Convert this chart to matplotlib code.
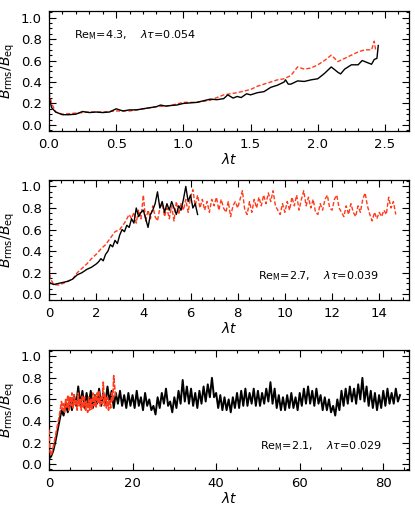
import numpy as np
import matplotlib
matplotlib.use("Agg")
import matplotlib.pyplot as plt
from matplotlib.ticker import MultipleLocator, FormatStrFormatter

# === data ===
# panel 1: Re_M=4.3
t1_black = [0, 0.02, 0.05, 0.1, 0.15, 0.2, 0.25, 0.3, 0.35, 0.4, 0.45, 0.5, 0.55, 0.6, 0.65,
            0.7, 0.75, 0.8, 0.83, 0.87, 0.9, 0.95, 1.0, 1.05, 1.1, 1.15, 1.2, 1.25, 1.3, 1.33,
            1.37, 1.4, 1.43, 1.47, 1.5, 1.55, 1.6, 1.65, 1.7, 1.75, 1.76, 1.78, 1.8, 1.85, 1.9,
            1.95, 2.0, 2.05, 2.1, 2.15, 2.17, 2.2, 2.25, 2.3, 2.33, 2.37, 2.4, 2.42, 2.44, 2.45]
b1_black = [0.26, 0.16, 0.12, 0.095, 0.095, 0.10, 0.125, 0.115, 0.12, 0.115, 0.12, 0.15, 0.13, 0.14, 0.14,
            0.15, 0.16, 0.17, 0.185, 0.175, 0.18, 0.185, 0.20, 0.205, 0.21, 0.225, 0.24, 0.235, 0.245, 0.28,
            0.25, 0.265, 0.255, 0.29, 0.28, 0.30, 0.31, 0.35, 0.37, 0.40, 0.42, 0.38, 0.38, 0.41, 0.405,
            0.42, 0.43, 0.48, 0.54, 0.49, 0.475, 0.52, 0.56, 0.56, 0.60, 0.58, 0.565, 0.61, 0.62, 0.74]
t1_red = [0, 0.02, 0.05, 0.1, 0.2, 0.3, 0.4, 0.5, 0.6, 0.7, 0.8, 0.9, 1.0, 1.1, 1.2, 1.3, 1.4,
          1.5, 1.55, 1.6, 1.65, 1.7, 1.75, 1.8, 1.85, 1.9, 1.95, 2.0, 2.05, 2.1, 2.15, 2.2, 2.25,
          2.3, 2.35, 2.4, 2.42, 2.43]
b1_red = [0.30, 0.20, 0.12, 0.10, 0.11, 0.12, 0.12, 0.13, 0.13, 0.15, 0.17, 0.18, 0.21, 0.21, 0.23, 0.28, 0.30,
          0.33, 0.36, 0.38, 0.40, 0.42, 0.43, 0.46, 0.54, 0.52, 0.53, 0.56, 0.60, 0.65, 0.59, 0.62, 0.65,
          0.68, 0.70, 0.70, 0.78, 0.70]

# panel 2: Re_M=2.7
t2_black_early = [0, 0.2, 0.4, 0.6, 0.8, 1.0, 1.2, 1.4, 1.6, 1.8]
b2_black_early = [0.11, 0.09, 0.10, 0.11, 0.12, 0.14, 0.18, 0.20, 0.23, 0.25]
b2_black_late = [0.28, 0.30, 0.33, 0.31, 0.37, 0.40, 0.46, 0.44, 0.50, 0.47,   # t = 2.0 .. 2.9
                 0.55, 0.60, 0.58, 0.64, 0.62, 0.70, 0.66, 0.80, 0.72, 0.76,   # 3.0 .. 3.9
                 0.78, 0.70, 0.62, 0.74, 0.78, 0.84, 0.95, 0.80, 0.86, 0.76,   # 4.0 .. 4.9
                 0.84, 0.78, 0.86, 0.80, 0.74, 0.82, 0.78, 0.88, 1.00, 0.86,   # 5.0 .. 5.9
                 0.92, 0.80, 0.84, 0.74]                                       # 6.0 .. 6.3
t2_red_early = [0, 0.05, 0.2, 0.4, 0.6, 0.8, 1.0, 1.2, 1.4, 1.6, 1.8, 2.0, 2.2, 2.4, 2.6, 2.8,
                3.0, 3.2, 3.4]
b2_red_early = [0.30, 0.15, 0.09, 0.085, 0.10, 0.12, 0.14, 0.20, 0.24, 0.28, 0.33, 0.37, 0.42, 0.46,
                0.52, 0.58, 0.60, 0.66, 0.74]
b2_red_late = [0.70, 0.76, 0.66, 0.78, 0.70,                                   # t = 3.5 .. 3.9
               0.92, 0.68, 0.78, 0.70, 0.82, 0.72, 0.68, 0.80, 0.84, 0.72,     # 4
               0.80, 0.70, 0.82, 0.68, 0.86, 0.74, 0.84, 0.78, 0.88, 0.76,     # 5
               0.90, 0.97, 0.82, 0.92, 0.80, 0.88, 0.78, 0.86, 0.76, 0.88,     # 6
               0.82, 0.90, 0.78, 0.88, 0.80, 0.76, 0.86, 0.72, 0.82, 0.86,     # 7
               0.80, 0.88, 0.96, 0.78, 0.74, 0.86, 0.76, 0.88, 0.80, 0.90,     # 8
               0.82, 0.92, 0.84, 0.94, 0.86, 0.96, 0.82, 0.78, 0.74, 0.84,     # 9
               0.76, 0.86, 0.78, 0.90, 0.82, 0.92, 0.78, 0.88, 0.96, 0.82,     # 10
               0.90, 0.80, 0.88, 0.76, 0.74, 0.84, 0.78, 0.88, 0.92, 0.80,     # 11
               0.78, 0.88, 0.92, 0.80, 0.76, 0.72, 0.82, 0.74, 0.84, 0.76,     # 12
               0.72, 0.82, 0.76, 0.88, 0.94, 0.82, 0.74, 0.68, 0.76, 0.70,     # 13
               0.76, 0.72, 0.78, 0.74, 0.90, 0.80, 0.86, 0.74]                 # 14 .. 14.7

# panel 3: Re_M=2.1, black sampled every 0.5
b3_black = [0.05, 0.07, 0.12, 0.20, 0.30, 0.40, 0.50, 0.45, 0.56, 0.48,   # t = 0 .. 4.5
            0.60, 0.50, 0.64, 0.54, 0.72, 0.55, 0.68, 0.52, 0.66, 0.54,   # 5 .. 9.5
            0.68, 0.52, 0.64, 0.56, 0.70, 0.54, 0.66, 0.56, 0.72, 0.58,   # 10
            0.68, 0.52, 0.66, 0.56, 0.68, 0.54, 0.64, 0.52, 0.66, 0.54,   # 15
            0.64, 0.52, 0.68, 0.54, 0.62, 0.50, 0.66, 0.54, 0.60, 0.50,   # 20
            0.54, 0.46, 0.62, 0.52, 0.66, 0.56, 0.70, 0.54, 0.58, 0.48,   # 25
            0.62, 0.52, 0.68, 0.56, 0.78, 0.58, 0.72, 0.56, 0.70, 0.54,   # 30
            0.66, 0.52, 0.68, 0.56, 0.72, 0.58, 0.74, 0.62, 0.80, 0.62,   # 35
            0.66, 0.52, 0.64, 0.50, 0.62, 0.50, 0.60, 0.48, 0.62, 0.52,   # 40
            0.66, 0.52, 0.68, 0.54, 0.70, 0.54, 0.66, 0.56, 0.70, 0.54,   # 45
            0.68, 0.54, 0.66, 0.56, 0.70, 0.58, 0.76, 0.56, 0.70, 0.52,   # 50
            0.64, 0.50, 0.62, 0.50, 0.64, 0.52, 0.66, 0.52, 0.62, 0.50,   # 55
            0.66, 0.54, 0.70, 0.56, 0.72, 0.56, 0.68, 0.54, 0.70, 0.56,   # 60
            0.64, 0.50, 0.62, 0.50, 0.60, 0.48, 0.54, 0.45, 0.60, 0.50,   # 65
            0.68, 0.54, 0.70, 0.56, 0.72, 0.58, 0.70, 0.56, 0.74, 0.60,   # 70
            0.80, 0.58, 0.72, 0.54, 0.68, 0.52, 0.66, 0.50, 0.64, 0.52,   # 75
            0.68, 0.54, 0.70, 0.56, 0.66, 0.56, 0.70, 0.58, 0.64]         # 80 .. 84
t3_red_early = [0, 0.25, 0.5, 1, 1.5, 2, 2.5]
b3_red_early = [0.32, 0.12, 0.08, 0.15, 0.25, 0.35, 0.45]
b3_red_late = [0.58, 0.50, 0.56, 0.48,   # t = 3.0 .. 3.75
               0.60, 0.52, 0.64, 0.50, 0.62, 0.54, 0.66, 0.52, 0.64, 0.55, 0.60, 0.50,   # 4 .. 6.75
               0.66, 0.54, 0.60, 0.50, 0.64, 0.52, 0.62, 0.50, 0.58, 0.48, 0.62, 0.50,   # 7 .. 9.75
               0.60, 0.50, 0.66, 0.54, 0.64, 0.52, 0.66, 0.56, 0.68, 0.54, 0.62, 0.56,   # 10 .. 12.75
               0.76, 0.54, 0.64, 0.52, 0.62, 0.50, 0.60, 0.52, 0.66, 0.58, 0.82, 0.70,   # 13 .. 15.75
               0.62]                                                                   # 16

labels = [r"Re$_{\rm M}$=4.3,    $\lambda\tau$=0.054",
          r"Re$_{\rm M}$=2.7,    $\lambda\tau$=0.039",
          r"Re$_{\rm M}$=2.1,    $\lambda\tau$=0.029"]

# time grids for the regularly sampled pieces
t2_black = t2_black_early + list(np.round(np.arange(2.0, 6.35, 0.1), 2))
b2_black = b2_black_early + b2_black_late
t2_red = t2_red_early + list(np.round(np.arange(3.5, 14.75, 0.1), 2))
b2_red = b2_red_early + b2_red_late
t3_black = np.arange(len(b3_black)) * 0.5
t3_red = t3_red_early + list(3.0 + np.arange(len(b3_red_late)) * 0.25)
b3_red = b3_red_early + b3_red_late

red = "#ff3a1a"
plt.rcParams["font.family"] = "DejaVu Sans"
plt.rcParams["mathtext.fontset"] = "dejavusans"
plt.rcParams["font.size"] = 9

fig = plt.figure(figsize=(4.15, 5.07), dpi=100)
boxes = [[0.118, 0.742, 0.868, 0.236],
         [0.118, 0.408, 0.868, 0.237],
         [0.118, 0.073, 0.868, 0.237]]
xlims = [2.68, 15.27, 86.2]
majors = [0.5, 2, 20]
minors = [0.1, 0.5, 5]
xfmt = ["%.1f", "%d", "%d"]
series = [(t1_black, b1_black, t1_red, b1_red),
          (t2_black, b2_black, t2_red, b2_red),
          (t3_black, b3_black, t3_red, b3_red)]
txtpos = [(0.07, 0.80), (0.58, 0.2), (0.585, 0.2)]

for i in range(3):
    ax = fig.add_axes(boxes[i])
    tb, bb, tr, br = series[i]
    if i == 2:
        ax.plot(tb, bb, color="black", lw=1.4, zorder=2)
        ax.plot(tr, br, color=red, lw=1.2, dashes=(3, 1), zorder=3)
    else:
        ax.plot(tr, br, color=red, lw=1.0, dashes=(3, 1.5), zorder=2)
        ax.plot(tb, bb, color="black", lw=1.0, zorder=3)
    ax.set_xlim(0, xlims[i])
    ax.set_ylim(-0.055, 1.06)
    ax.xaxis.set_major_locator(MultipleLocator(majors[i]))
    ax.xaxis.set_minor_locator(MultipleLocator(minors[i]))
    ax.yaxis.set_major_locator(MultipleLocator(0.2))
    ax.yaxis.set_minor_locator(MultipleLocator(0.05))
    ax.xaxis.set_major_formatter(FormatStrFormatter(xfmt[i]))
    ax.yaxis.set_major_formatter(FormatStrFormatter("%.1f"))
    ax.tick_params(which="both", direction="in", top=True, right=True, width=0.8)
    ax.tick_params(which="major", length=5, labelsize=9.5, pad=5)
    ax.tick_params(which="minor", length=2.5)
    for s in ax.spines.values():
        s.set_linewidth(0.9)
    ax.set_xlabel(r"$\lambda t$", fontsize=10, labelpad=1)
    ax.set_ylabel(r"$B_{\rm rms}/B_{\rm eq}$", fontsize=10, labelpad=3)
    ax.text(txtpos[i][0], txtpos[i][1], labels[i], transform=ax.transAxes,
            fontsize=8, va="center", ha="left")

fig.savefig("out.png", dpi=100)
